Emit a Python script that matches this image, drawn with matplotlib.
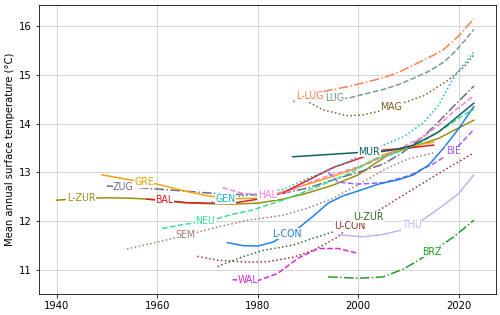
import numpy as np
import matplotlib
matplotlib.use('Agg')
from matplotlib import pyplot as plt

# smoothed annual mean temperature per station
lzur_yr = [1940, 1945, 1950, 1955, 1960, 1965, 1970, 1975, 1980, 1985, 1990, 1995, 2000, 2003, 2006, 2009, 2012, 2016, 2019, 2023]
lzur_t = [12.43, 12.47, 12.48, 12.47, 12.44, 12.38, 12.36, 12.35, 12.37, 12.45, 12.58, 12.74, 12.95, 13.16, 13.36, 13.47, 13.56, 13.70, 13.86, 14.07]
zug_yr = [1950, 1955, 1960, 1965, 1970, 1975, 1980, 1985, 1990, 1995, 2000, 2005, 2009, 2013, 2016, 2019, 2023]
zug_t = [12.72, 12.70, 12.66, 12.62, 12.58, 12.55, 12.54, 12.57, 12.68, 12.85, 13.00, 13.17, 13.42, 13.74, 14.04, 14.36, 14.77]
gre_yr = [1949, 1955, 1960, 1965, 1970, 1975, 1980, 1985, 1990, 1995, 2000, 2005, 2010, 2015]
gre_t = [12.95, 12.84, 12.76, 12.63, 12.52, 12.46, 12.47, 12.60, 12.76, 12.92, 13.10, 13.36, 13.53, 13.62]
bal_yr = [1958, 1962, 1966, 1970, 1975, 1980, 1985, 1990, 1995, 2000, 2005, 2010, 2015]
bal_t = [12.45, 12.42, 12.38, 12.37, 12.37, 12.45, 12.58, 12.84, 13.10, 13.28, 13.46, 13.50, 13.56]
gen_yr = [1970, 1974, 1980, 1985, 1990, 1997, 2001, 2005, 2009, 2013, 2016, 2019, 2023]
gen_t = [12.37, 12.47, 12.56, 12.65, 12.88, 13.17, 13.38, 13.56, 13.73, 14.02, 14.38, 14.95, 15.47]
hal_yr = [1973, 1977, 1982, 1986, 1990, 1994, 1998, 2002, 2005, 2009, 2013, 2016, 2019, 2023]
hal_t = [12.69, 12.57, 12.54, 12.60, 12.78, 12.93, 13.05, 13.18, 13.33, 13.53, 13.73, 13.97, 14.25, 14.57]
neu_yr = [1961, 1965, 1970, 1975, 1979, 1985, 1992, 1998, 2003, 2008, 2013, 2017, 2021, 2023]
neu_t = [11.85, 11.93, 12.00, 12.14, 12.23, 12.43, 12.71, 12.97, 13.25, 13.42, 13.64, 13.90, 14.18, 14.30]
sem_yr = [1954, 1960, 1966, 1972, 1978, 1985, 1990, 1995, 2000, 2005, 2010, 2015]
sem_t = [11.43, 11.57, 11.72, 11.88, 12.02, 12.12, 12.27, 12.47, 12.75, 13.05, 13.28, 13.40]
llug_yr = [1987, 1990, 1994, 1998, 2002, 2005, 2008, 2011, 2014, 2017, 2020, 2023]
llug_t = [14.45, 14.55, 14.68, 14.76, 14.86, 14.94, 15.05, 15.20, 15.35, 15.52, 15.80, 16.15]
lug_yr = [1992, 1995, 1998, 2001, 2005, 2008, 2011, 2014, 2017, 2019, 2021, 2023]
lug_t = [14.53, 14.52, 14.52, 14.60, 14.70, 14.80, 14.93, 15.07, 15.26, 15.45, 15.68, 15.93]
mag_yr = [1988, 1990, 1993, 1998, 2001, 2004, 2007, 2010, 2013, 2015, 2018, 2021, 2023]
mag_t = [14.50, 14.45, 14.28, 14.16, 14.18, 14.25, 14.36, 14.46, 14.57, 14.70, 14.90, 15.16, 15.41]
mur_yr = [1987, 1990, 1993, 1996, 1999, 2002, 2005, 2008, 2011, 2014, 2016, 2019, 2023]
mur_t = [13.32, 13.34, 13.36, 13.38, 13.40, 13.42, 13.43, 13.48, 13.56, 13.72, 13.83, 14.08, 14.42]
bie_yr = [1994, 1996, 2000, 2005, 2010, 2015, 2019, 2023]
bie_t = [13.00, 12.80, 12.76, 12.79, 12.93, 13.18, 13.44, 13.88]
lcon_yr = [1974, 1977, 1980, 1983, 1986, 1988, 1991, 1994, 1997, 2000, 2004, 2008, 2011, 2014, 2017, 2020, 2023]
lcon_t = [11.56, 11.50, 11.49, 11.57, 11.75, 11.85, 12.10, 12.37, 12.52, 12.62, 12.76, 12.85, 12.95, 13.15, 13.50, 13.90, 14.35]
ucon_yr = [1968, 1972, 1978, 1982, 1987, 1991, 1996, 1998, 2002, 2005, 2010, 2016, 2020, 2023]
ucon_t = [11.28, 11.20, 11.16, 11.17, 11.26, 11.40, 11.68, 11.87, 12.10, 12.28, 12.60, 12.98, 13.22, 13.40]
uzur_yr = [1972, 1977, 1981, 1987, 1991, 1995, 1999, 2002, 2004]
uzur_t = [11.07, 11.27, 11.40, 11.51, 11.65, 11.78, 11.93, 12.08, 12.15]
thu_yr = [1996, 2001, 2005, 2009, 2013, 2017, 2020, 2023]
thu_t = [11.72, 11.68, 11.73, 11.83, 12.04, 12.33, 12.57, 12.95]
wal_yr = [1975, 1980, 1984, 1988, 1992, 1996, 2000]
wal_t = [10.80, 10.78, 10.93, 11.24, 11.44, 11.44, 11.34]
brz_yr = [1994, 2000, 2005, 2009, 2012, 2015, 2019, 2023]
brz_t = [10.86, 10.83, 10.86, 11.02, 11.20, 11.40, 11.68, 12.02]

stations = ['L-ZUR', 'ZUG', 'GRE', 'BAL', 'GEN', 'HAL', 'NEU', 'SEM', 'L-LUG', 'LUG',
            'MAG', 'MUR', 'BIE', 'L-CON', 'U-CON', 'U-ZUR', 'THU', 'WAL', 'BRZ']
series = [(lzur_yr, lzur_t), (zug_yr, zug_t), (gre_yr, gre_t), (bal_yr, bal_t),
          (gen_yr, gen_t), (hal_yr, hal_t), (neu_yr, neu_t), (sem_yr, sem_t),
          (llug_yr, llug_t), (lug_yr, lug_t), (mag_yr, mag_t), (mur_yr, mur_t),
          (bie_yr, bie_t), (lcon_yr, lcon_t), (ucon_yr, ucon_t), (uzur_yr, uzur_t),
          (thu_yr, thu_t), (wal_yr, wal_t), (brz_yr, brz_t)]

colors = ['#9b8a10', '#6e6682', '#f2a20c', '#dd1c1c', '#17b5d0', '#ff80d6', '#2de391',
          '#a97b6e', '#ff7f50', '#739c84', '#7d5b22', '#0e5f62', '#a45cf5', '#1f7fe6',
          '#9b2d2d', '#2f6b2f', '#b9b5f7', '#d62ad6', '#219c21']
styles = ['-', '-.', '-', '-', ':', '--', '--', ':', '-.', '--',
          ':', '-', '--', '-', ':', ':', '-', '--', '-.']
# year at which each inline label sits
label_x = [1944.9, 1953.3, 1957.4, 1961.4, 1973.6, 1981.9, 1969.6, 1965.6, 1990.3, 1995.3,
           2006.6, 2002.2, 2018.9, 1985.9, 1998.4, 2002.0, 2010.6, 1978.0, 2014.6]

fig = plt.figure(figsize=(500/72, 315/72), dpi=72)
ax = fig.add_subplot(111)
fig.subplots_adjust(left=0.078, right=0.992, top=0.984, bottom=0.067)

for name, (yr, t), c, ls, lx in zip(stations, series, colors, styles, label_x):
    ax.plot(yr, t, color=c, linestyle=ls, linewidth=1.5)
    ly = np.interp(lx, yr, t)
    if lx < yr[0]:
        ly = t[0]
    ax.text(lx, ly, name, color=c, fontsize=9.5, ha='center', va='center', zorder=5,
            bbox=dict(facecolor='white', edgecolor='none', pad=0.5))

ax.set_xlim(1936.5, 2027.4)
ax.set_ylim(10.51, 16.43)
ax.set_xticks([1940, 1960, 1980, 2000, 2020])
ax.set_yticks([11, 12, 13, 14, 15, 16])
ax.grid(True, color='#d5d5d5', linewidth=1)
ax.set_axisbelow(True)
ax.set_ylabel('Mean annual surface temperature (°C)')

fig.savefig('out.png', dpi=72)
